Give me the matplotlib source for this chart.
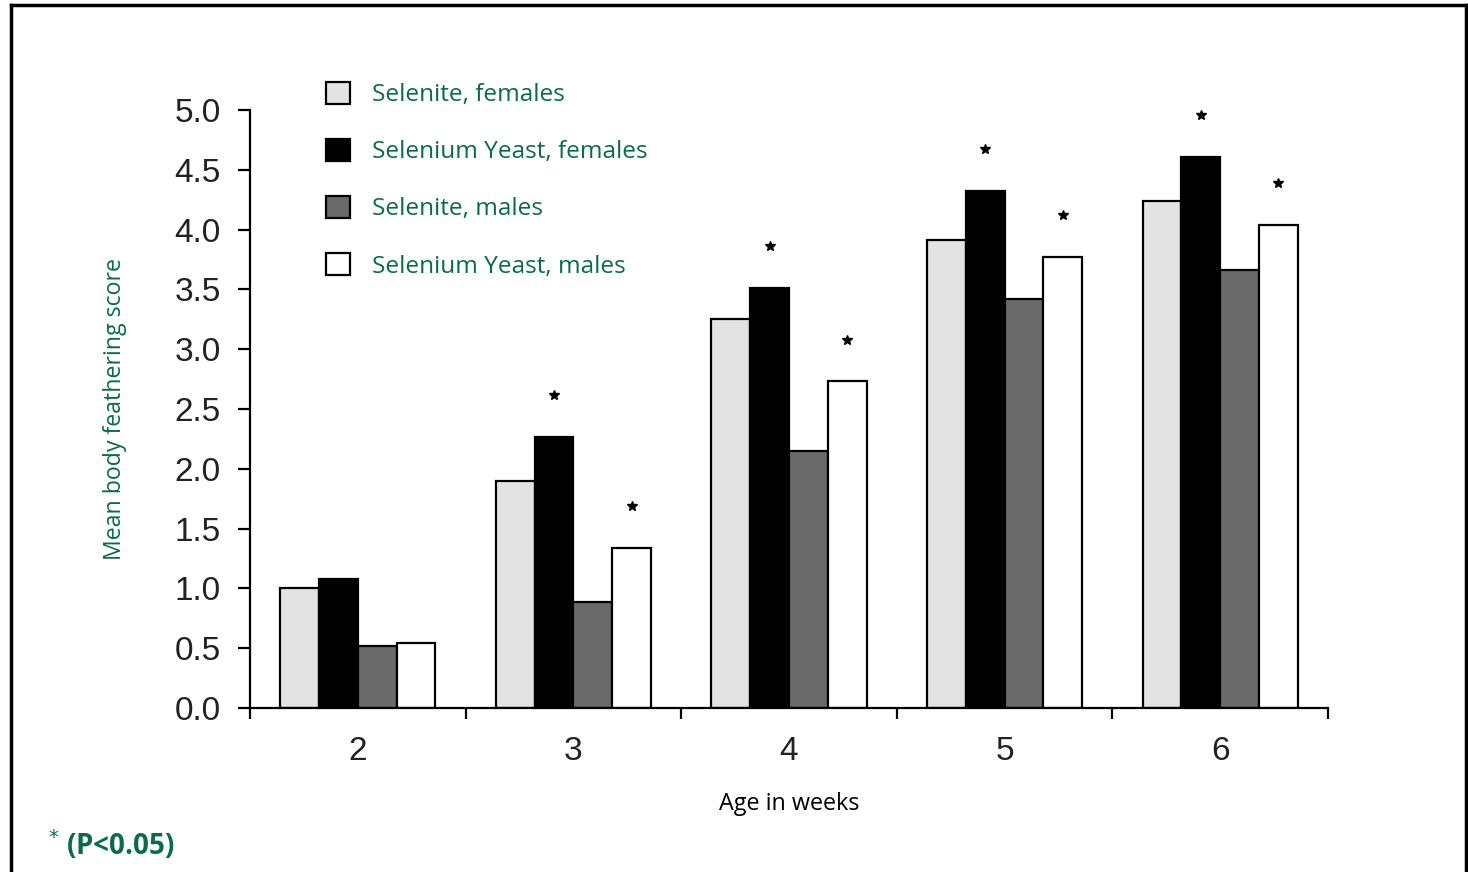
import numpy as np
import matplotlib
matplotlib.use("Agg")
import matplotlib.pyplot as plt
from matplotlib.patches import Patch
from matplotlib.lines import Line2D

# ========= data =========
weeks = ["2", "3", "4", "5", "6"]
series_names = ["Selenite, females", "Selenium Yeast, females",
                "Selenite, males", "Selenium Yeast, males"]
selenite_f = [1.00, 1.90, 3.25, 3.91, 4.24]
yeast_f    = [1.08, 2.27, 3.51, 4.32, 4.61]
selenite_m = [0.52, 0.89, 2.15, 3.42, 3.66]
yeast_m    = [0.54, 1.34, 2.73, 3.77, 4.04]
# significant (P<0.05) marks: week index
sig_female = [1, 2, 3, 4]
sig_male   = [1, 2, 3, 4]

GREEN = "#0b6b47"
colors = ["#e3e3e3", "#000000", "#6a6a6a", "#ffffff"]
values = [selenite_f, yeast_f, selenite_m, yeast_m]

fig = plt.figure(figsize=(14.68, 8.72), dpi=100)
ax = fig.add_axes([250/1468, 1-708/872, (1328-250)/1468, (708-110)/872])

x = np.arange(len(weeks))
w = 0.18
offsets = [-1.5*w, -0.5*w, 0.5*w, 1.5*w]
for vals, c, off in zip(values, colors, offsets):
    ax.bar(x + off, vals, width=w, color=c, edgecolor="black", linewidth=1.6)

# stars
star_gap = 0.35
for i in sig_female:
    ax.plot(x[i] + offsets[1], yeast_f[i] + star_gap, marker="*", color="black",
            markersize=7, linestyle="none")
for i in sig_male:
    ax.plot(x[i] + offsets[3], yeast_m[i] + star_gap, marker="*", color="black",
            markersize=7, linestyle="none")

ax.set_xlim(-0.5, 4.5)
ax.set_ylim(0, 5.0)
for s in ["top", "right"]:
    ax.spines[s].set_visible(False)
for s in ["left", "bottom"]:
    ax.spines[s].set_linewidth(1.6)

ax.set_yticks(np.arange(0, 5.01, 0.5))
ax.set_yticklabels([f"{v:.1f}" for v in np.arange(0, 5.01, 0.5)],
                   fontsize=24, fontfamily="Liberation Sans", color="#222222")
ax.tick_params(axis="y", length=9, width=1.6, pad=12)

ax.set_xticks(x)
ax.set_xticklabels(weeks, fontsize=24, fontfamily="Liberation Sans", color="#222222")
ax.set_xticks(np.arange(-0.5, 4.6, 1.0), minor=True)
ax.tick_params(axis="x", which="major", length=0, pad=20)
ax.tick_params(axis="x", which="minor", length=8, width=1.6)

ax.set_ylabel("Mean body feathering score", fontsize=16.7, color=GREEN,
              fontfamily="Open Sans", labelpad=34)
ax.set_xlabel("Age in weeks", fontsize=16.8, color="black",
              fontfamily="Open Sans", labelpad=18)

handles = [Patch(facecolor=c, edgecolor="black", linewidth=1.6) for c in colors]
leg = ax.legend(handles, series_names, loc="upper left",
                bbox_to_anchor=(304/1468, 1-60/872), bbox_transform=fig.transFigure,
                frameon=False, handlelength=1.0, handleheight=1.0,
                handletextpad=0.9, labelspacing=1.3,
                prop={"family": "Open Sans", "size": 17.6})
for t in leg.get_texts():
    t.set_color(GREEN)

fig.text(48/1468, 1-845/872, "$^{*}$ (P<0.05)", fontsize=20, fontweight="bold",
         color=GREEN, fontfamily="Open Sans", va="center")

# outer frame
fig.add_artist(Line2D([11/1468, 11/1468], [0, 1-5/872], transform=fig.transFigure,
                      color="black", linewidth=2.5))
fig.add_artist(Line2D([11/1468, 1466/1468], [1-5/872, 1-5/872], transform=fig.transFigure,
                      color="black", linewidth=2.5))
fig.add_artist(Line2D([1466/1468, 1466/1468], [0, 1-5/872], transform=fig.transFigure,
                      color="black", linewidth=2.5))

fig.savefig("out.png", dpi=100)
